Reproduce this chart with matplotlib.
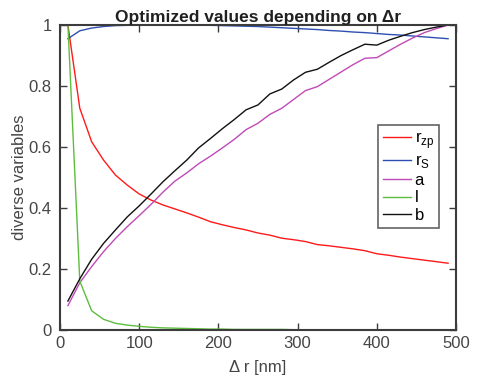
import numpy as np
import matplotlib
matplotlib.use("Agg")
import matplotlib.pyplot as plt

plt.rcParams['font.family'] = ['Liberation Sans', 'DejaVu Sans']
plt.rcParams['mathtext.fontset'] = 'custom'
plt.rcParams['mathtext.rm'] = 'Liberation Sans'

dr = list(range(10, 491, 15))

r_zp = [1.0, 0.727, 0.617, 0.557, 0.508, 0.475, 0.446, 0.426, 0.410, 0.397, 0.384,
        0.370, 0.355, 0.345, 0.336, 0.328, 0.318, 0.311, 0.301, 0.296, 0.290, 0.280,
        0.276, 0.271, 0.266, 0.260, 0.250, 0.245, 0.239, 0.234, 0.229, 0.224, 0.219]
r_s = [0.955, 0.981, 0.990, 0.995, 0.998, 0.999, 1.0, 1.0, 1.0, 1.0, 1.0,
       0.999, 0.999, 0.998, 0.997, 0.996, 0.995, 0.993, 0.991, 0.989, 0.987, 0.985,
       0.982, 0.980, 0.977, 0.975, 0.972, 0.969, 0.967, 0.964, 0.961, 0.958, 0.955]
a = [0.080, 0.155, 0.208, 0.257, 0.300, 0.339, 0.375, 0.412, 0.452, 0.488, 0.515,
     0.545, 0.570, 0.597, 0.625, 0.657, 0.678, 0.707, 0.727, 0.756, 0.785, 0.798,
     0.822, 0.846, 0.870, 0.891, 0.893, 0.915, 0.937, 0.957, 0.975, 0.988, 1.0]
l = [1.0, 0.160, 0.063, 0.035, 0.022, 0.016, 0.012, 0.009, 0.007, 0.006, 0.005,
     0.004, 0.003, 0.003, 0.002, 0.002, 0.002, 0.002, 0.002, 0.001, 0.001, 0.001,
     0.001, 0.001, 0.001, 0.001, 0.001, 0.001, 0.001, 0.001, 0.001, 0.001, 0.001]
b = [0.095, 0.168, 0.232, 0.284, 0.328, 0.371, 0.407, 0.446, 0.486, 0.522, 0.557,
     0.597, 0.628, 0.660, 0.690, 0.722, 0.738, 0.774, 0.790, 0.820, 0.845, 0.855,
     0.878, 0.900, 0.919, 0.937, 0.934, 0.950, 0.963, 0.975, 0.985, 0.993, 1.0]

fig = plt.figure(figsize=(4.86, 3.78), dpi=100)
ax = fig.add_axes([60/486, 1-330/378, 396/486, 305/378])

ax.plot(dr, r_zp, color='#ff1a1a', lw=1.0, label=r'r$_{\rm zp}$')
ax.plot(dr, r_s, color='#2f4fb0', lw=1.0, label=r'r$_{\rm S}$')
ax.plot(dr, a, color='#c04ab8', lw=1.0, label='a')
ax.plot(dr, l, color='#5ebd3e', lw=1.0, label='l')
ax.plot(dr, b, color='#111111', lw=1.0, label='b')

ax.set_xlim(0, 500)
ax.set_ylim(0, 1)
ax.set_xticks([0, 100, 200, 300, 400, 500])
ax.set_yticks([0, 0.2, 0.4, 0.6, 0.8, 1])
ax.set_yticklabels(['0', '0.2', '0.4', '0.6', '0.8', '1'])
gray = '#3c3c3c'
for s in ax.spines.values():
    s.set_color(gray)
    s.set_linewidth(1.5)
ax.tick_params(direction='in', top=True, right=True, length=5, width=1.0,
               colors=gray, labelsize=12, labelcolor='#454545')
ax.tick_params(axis='y', pad=6)
ax.tick_params(axis='x', pad=4)
ax.set_xlabel('Δ r [nm]', fontsize=12, color='#454545', labelpad=7)
ax.set_ylabel('diverse variables', fontsize=12, color='#454545', labelpad=1)
ax.set_title('Optimized values depending on Δr', fontsize=12.5, fontweight='bold',
             color='#202020', pad=2)

leg = ax.legend(loc='upper left', bbox_to_anchor=((378-60)/396, (330-125)/305),
                fontsize=12, frameon=True, fancybox=False, handlelength=1.7,
                handletextpad=0.2, borderpad=0.3, labelspacing=0.15, borderaxespad=0)
leg.get_frame().set_edgecolor(gray)
leg.get_frame().set_linewidth(1.2)

fig.savefig('out.png', dpi=100)
